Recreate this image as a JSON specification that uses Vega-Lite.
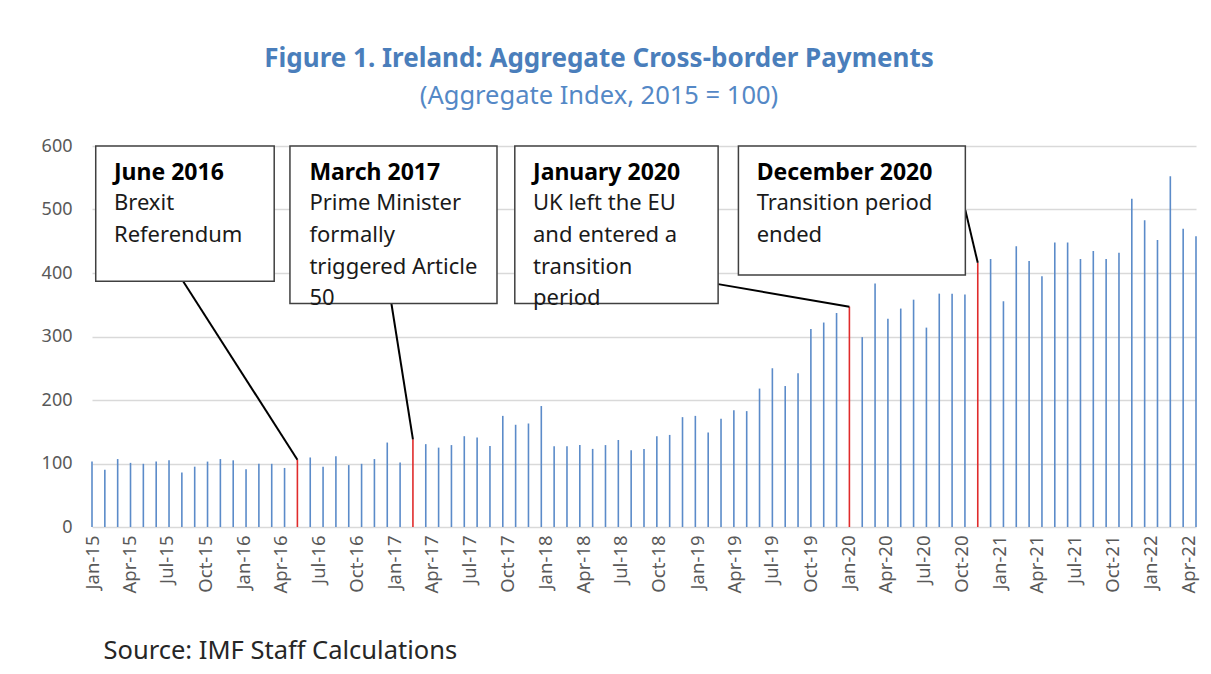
{
  "$schema": "https://vega.github.io/schema/vega-lite/v6.json",
  "width": 1104,
  "height": 381,
  "autosize": {"type": "none"},
  "padding": {"left": 92, "top": 146, "right": 15, "bottom": 147},
  "background": "white",
  "config": {"view": {"stroke": null}, "font": "Noto Sans"},
  "title": {
    "text": "Figure 1. Ireland: Aggregate Cross-border Payments",
    "subtitle": "(Aggregate Index, 2015 = 100)",
    "anchor": "middle",
    "frame": "group",
    "dx": -45,
    "offset": 28,
    "font": "Noto Sans",
    "fontSize": 26,
    "fontWeight": "bold",
    "color": "#4A7EBB",
    "subtitleFont": "Noto Sans",
    "subtitleFontSize": 25.5,
    "subtitleColor": "#5488C6",
    "subtitlePadding": 12
  },
  "datasets": {
    "payments": [
      {"date": "2015-01-01", "value": 103},
      {"date": "2015-02-01", "value": 90},
      {"date": "2015-03-04", "value": 107},
      {"date": "2015-04-04", "value": 101},
      {"date": "2015-05-05", "value": 99.5},
      {"date": "2015-06-05", "value": 103},
      {"date": "2015-07-06", "value": 105},
      {"date": "2015-08-06", "value": 86},
      {"date": "2015-09-06", "value": 95},
      {"date": "2015-10-07", "value": 103},
      {"date": "2015-11-07", "value": 107},
      {"date": "2015-12-08", "value": 105},
      {"date": "2016-01-08", "value": 91},
      {"date": "2016-02-08", "value": 99.5},
      {"date": "2016-03-10", "value": 99.5},
      {"date": "2016-04-10", "value": 93},
      {"date": "2016-05-11", "value": 106, "highlight": true},
      {"date": "2016-06-11", "value": 109.5},
      {"date": "2016-07-12", "value": 95},
      {"date": "2016-08-12", "value": 111.5},
      {"date": "2016-09-12", "value": 97.5},
      {"date": "2016-10-13", "value": 99.5},
      {"date": "2016-11-13", "value": 107},
      {"date": "2016-12-14", "value": 133},
      {"date": "2017-01-14", "value": 101.6},
      {"date": "2017-02-14", "value": 138, "highlight": true},
      {"date": "2017-03-17", "value": 130.5},
      {"date": "2017-04-17", "value": 125},
      {"date": "2017-05-18", "value": 129},
      {"date": "2017-06-18", "value": 143},
      {"date": "2017-07-19", "value": 141},
      {"date": "2017-08-19", "value": 127.5},
      {"date": "2017-09-19", "value": 175},
      {"date": "2017-10-20", "value": 161},
      {"date": "2017-11-20", "value": 163},
      {"date": "2017-12-21", "value": 190.5},
      {"date": "2018-01-21", "value": 127},
      {"date": "2018-02-21", "value": 127},
      {"date": "2018-03-24", "value": 129},
      {"date": "2018-04-24", "value": 123},
      {"date": "2018-05-25", "value": 129},
      {"date": "2018-06-25", "value": 137},
      {"date": "2018-07-26", "value": 121},
      {"date": "2018-08-26", "value": 123},
      {"date": "2018-09-26", "value": 143},
      {"date": "2018-10-27", "value": 145},
      {"date": "2018-11-27", "value": 173},
      {"date": "2018-12-28", "value": 175},
      {"date": "2019-01-28", "value": 149},
      {"date": "2019-02-28", "value": 170.5},
      {"date": "2019-03-31", "value": 184},
      {"date": "2019-05-01", "value": 182.5},
      {"date": "2019-06-01", "value": 218},
      {"date": "2019-07-02", "value": 250},
      {"date": "2019-08-02", "value": 222},
      {"date": "2019-09-02", "value": 242},
      {"date": "2019-10-03", "value": 312},
      {"date": "2019-11-03", "value": 322},
      {"date": "2019-12-04", "value": 337},
      {"date": "2020-01-04", "value": 347, "highlight": true},
      {"date": "2020-02-04", "value": 299},
      {"date": "2020-03-06", "value": 383.5},
      {"date": "2020-04-06", "value": 328},
      {"date": "2020-05-07", "value": 344},
      {"date": "2020-06-07", "value": 358},
      {"date": "2020-07-08", "value": 314},
      {"date": "2020-08-08", "value": 367.5},
      {"date": "2020-09-08", "value": 367.5},
      {"date": "2020-10-09", "value": 366},
      {"date": "2020-11-09", "value": 416, "highlight": true},
      {"date": "2020-12-10", "value": 422},
      {"date": "2021-01-10", "value": 355.5},
      {"date": "2021-02-10", "value": 442},
      {"date": "2021-03-13", "value": 419},
      {"date": "2021-04-13", "value": 395},
      {"date": "2021-05-14", "value": 448},
      {"date": "2021-06-14", "value": 448},
      {"date": "2021-07-15", "value": 422},
      {"date": "2021-08-15", "value": 434.5},
      {"date": "2021-09-15", "value": 422},
      {"date": "2021-10-16", "value": 432},
      {"date": "2021-11-16", "value": 517},
      {"date": "2021-12-17", "value": 483},
      {"date": "2022-01-17", "value": 452},
      {"date": "2022-02-17", "value": 552.5},
      {"date": "2022-03-20", "value": 469.5},
      {"date": "2022-04-20", "value": 458}
    ],
    "notes": [
      {"event": "June 2016", "note": "Brexit\nReferendum", "boxStart": "2015-01-10", "boxEnd": "2016-03-16", "boxTop": 600, "boxBottom": 387, "textX": "2015-02-23", "lineX": "2015-08-09", "lineY": 387, "barDate": "2016-05-11", "barValue": 106},
      {"event": "March 2017", "note": "Prime Minister\nformally\ntriggered Article\n50", "boxStart": "2016-04-23", "boxEnd": "2017-09-05", "boxTop": 600, "boxBottom": 352, "textX": "2016-06-09", "lineX": "2016-12-24", "lineY": 352, "barDate": "2017-02-14", "barValue": 138},
      {"event": "January 2020", "note": "UK left the EU\nand entered a\ntransition\nperiod", "boxStart": "2017-10-18", "boxEnd": "2019-02-21", "boxTop": 600, "boxBottom": 352, "textX": "2017-12-01", "lineX": "2019-02-21", "lineY": 382.5, "barDate": "2020-01-04", "barValue": 347},
      {"event": "December 2020", "note": "Transition period\nended", "boxStart": "2019-04-11", "boxEnd": "2020-10-10", "boxTop": 600, "boxBottom": 397, "textX": "2019-05-25", "lineX": "2020-10-10", "lineY": 499, "barDate": "2020-11-09", "barValue": 416}
    ]
  },
  "layer": [
    {
      "data": {"name": "payments"},
      "mark": {"type": "rule", "strokeWidth": 1.6},
      "encoding": {
        "x": {
          "field": "date",
          "type": "temporal",
          "scale": {"type": "utc", "domain": [{"year": 2015, "month": 1, "date": 1, "utc": true}, {"year": 2022, "month": 4, "date": 20, "utc": true}], "nice": false},
          "axis": {
            "title": "Source: IMF Staff Calculations",
            "labelExpr": "utcFormat(datum.value, '%b-%y')",
            "tickCount": {"interval": "month", "step": 3},
            "labelAngle": -90,
            "labelFont": "Noto Sans",
            "labelFontSize": 18.5,
            "labelColor": "#595959",
            "labelPadding": 8,
            "labelFlush": false,
            "labelOverlap": false,
            "labelBound": false,
            "ticks": false,
            "domain": false,
            "grid": false,
            "titleFont": "Noto Sans",
            "titleFontSize": 25.5,
            "titleFontWeight": "normal",
            "titleColor": "#262626",
            "titleAnchor": "start",
            "titleAlign": "left",
            "titleBaseline": "middle",
            "titleX": 11,
            "titleY": 123
          }
        },
        "y": {
          "field": "value",
          "type": "quantitative",
          "scale": {"domain": [0, 600], "nice": false},
          "axis": {
            "title": null,
            "values": [0, 100, 200, 300, 400, 500, 600],
            "labelFont": "Noto Sans",
            "labelFontSize": 18,
            "labelColor": "#595959",
            "labelPadding": 20,
            "ticks": false,
            "domain": false,
            "gridColor": "#D9D9D9",
            "gridWidth": 1.5
          }
        },
        "y2": {"datum": 0},
        "color": {
          "condition": {"test": "datum.highlight === true", "value": "#E02B2B"},
          "value": "#5B8BC9"
        }
      }
    },
    {
      "data": {"name": "notes"},
      "mark": {"type": "rule", "color": "#000000", "strokeWidth": 2},
      "encoding": {
        "x": {"field": "lineX", "type": "temporal"},
        "y": {"field": "lineY", "type": "quantitative"},
        "x2": {"field": "barDate"},
        "y2": {"field": "barValue"}
      }
    },
    {
      "data": {"name": "notes"},
      "mark": {"type": "rect", "fill": "#FFFFFF", "stroke": "#404040", "strokeWidth": 1.5},
      "encoding": {
        "x": {"field": "boxStart", "type": "temporal"},
        "x2": {"field": "boxEnd"},
        "y": {"field": "boxTop", "type": "quantitative"},
        "y2": {"field": "boxBottom"}
      }
    },
    {
      "data": {"name": "notes"},
      "mark": {"type": "text", "align": "left", "baseline": "middle", "font": "Noto Sans", "fontSize": 23, "fontWeight": "bold", "color": "#000000"},
      "encoding": {
        "x": {"field": "textX", "type": "temporal"},
        "y": {"datum": 557.5},
        "text": {"field": "event"}
      }
    },
    {
      "data": {"name": "notes"},
      "mark": {"type": "text", "align": "left", "baseline": "middle", "font": "Noto Sans", "fontSize": 22, "color": "#1A1A1A", "lineBreak": "\n", "lineHeight": 31.7},
      "encoding": {
        "x": {"field": "textX", "type": "temporal"},
        "y": {"datum": 510},
        "text": {"field": "note"}
      }
    }
  ]
}
